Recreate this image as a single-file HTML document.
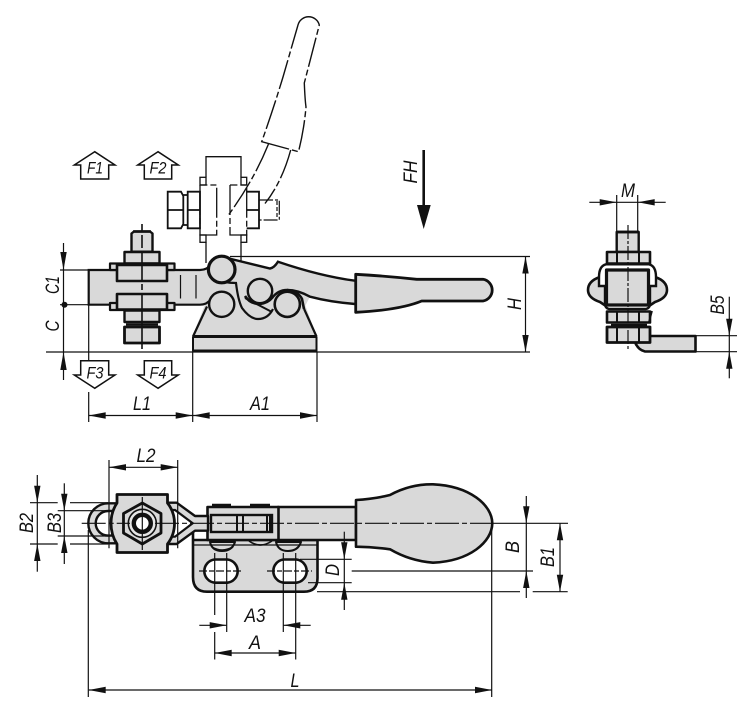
<!DOCTYPE html>
<html><head><meta charset="utf-8"><style>
html,body{margin:0;padding:0;background:#fff}
svg{display:block}
.t{font-family:"Liberation Sans",sans-serif;font-style:italic;font-size:19px;fill:#111;text-anchor:middle}
.f{font-size:17px}
.g{fill:#d9d9d9;stroke:#111;stroke-linejoin:round}
.n{fill:none;stroke:#111}
.w{fill:#fff;stroke:#111}
.h{stroke:#111;stroke-width:1.2;fill:none}
.a{fill:#111;stroke:none}
.c{stroke:#111;stroke-width:1.1;fill:none;stroke-dasharray:24 3 5 3}
.p{stroke:#111;stroke-width:1.4;fill:none;stroke-dasharray:30 3 6 3}
</style></head><body>
<svg width="750" height="711" viewBox="0 0 750 711" xmlns="http://www.w3.org/2000/svg">
<rect width="750" height="711" fill="#fff"/>

<!-- Force symbols -->
<polygon class="n" stroke-width="1.5" points="94.7,151.7 74.3,165 80.7,165 80.7,179 108.7,179 108.7,165 115,165"/>
<polygon class="n" stroke-width="1.5" points="158,151.7 137.7,165 144.3,165 144.3,179 171.7,179 171.7,165 178.3,165"/>
<polygon class="n" stroke-width="1.5" points="94.7,388.3 74.3,375 80.7,375 80.7,360.7 108.7,360.7 108.7,375 115,375"/>
<polygon class="n" stroke-width="1.5" points="158,388.3 137.7,375 144.3,375 144.3,360.7 171.7,360.7 171.7,375 178.3,375"/>
<text class="t f" x="95" y="173.5" textLength="16" lengthAdjust="spacingAndGlyphs">F1</text>
<text class="t f" x="158" y="173.5" textLength="17" lengthAdjust="spacingAndGlyphs">F2</text>
<text class="t f" x="95" y="378.5" textLength="17" lengthAdjust="spacingAndGlyphs">F3</text>
<text class="t f" x="158" y="378.5" textLength="17" lengthAdjust="spacingAndGlyphs">F4</text>

<!-- Phantom handle -->
<g class="p">
<path d="M298,25 A11,11 0 0 1 319.3,25 L304.3,83 Q305,100 306,107 Q304,130 298.5,151.7 L261.7,141.7 Q273,110 283,77 L298,25"/>
<path d="M268.5,144 Q254,180 228.5,215"/>
<path d="M290.7,150 Q282,182 265,203.5"/>
</g>

<!-- Phantom clamp arm -->
<g class="n" stroke-width="1.3">
<path d="M206,177.3 V156.7 H241 V177.3"/>
<rect x="200" y="177.3" width="6" height="7.7"/>
<rect x="241" y="177.3" width="5.7" height="7.7"/>
<rect x="200" y="235" width="6" height="7.3"/>
<rect x="241" y="235" width="5.7" height="7.3"/>
<path d="M200,185 V235 H216.7 V185 H200" stroke-dasharray="30 3 6 3"/>
<path d="M230,185 V235 H246.7 V185 H230" stroke-dasharray="30 3 6 3"/>
<path d="M206,242.3 V263 M241,242.3 V265"/>
</g>
<g class="n" stroke-width="1.8">
<path d="M187.7,191.7 H200 V228.3 H187.7 Z M187.7,210 H200"/>
<path d="M167.7,191.7 H181 L183.3,196 V224 L181,228.3 H167.7 Z M167.7,210 H183.3"/>
<path d="M183.3,195 H187.7 M183.3,225 H187.7"/>
<path d="M246.7,191.7 H259 V228.3 H246.7 M246.7,210 H259"/>
</g>
<g class="n" stroke-width="1.2">
<path d="M259,200 H279.3 V220 H259" stroke-dasharray="14 2 3 2"/>
<path d="M277,201 V219" stroke-dasharray="4 2"/>
</g>

<!-- Long horizontals -->
<g class="h">
<path d="M46,352 H530"/>
<path d="M230,256.5 H530"/>
<path d="M60,270 H90"/>
<path d="M60,304.7 H90"/>
</g>

<!-- Base side view -->
<path d="M206.7,300 L192.7,336 H316.7 L303.3,300 Z" fill="#d9d9d9"/>
<path class="n" stroke-width="2.2" d="M207,306.5 L193,336.5 M303,306.5 L316.5,336.5"/>
<rect class="g" stroke-width="2" x="193" y="337" width="123.5" height="14"/>
<path class="n" stroke-width="3" d="M193,336.5 H316.5 M193,351 H317"/>

<!-- Clamp arm -->
<path d="M88.7,270 H200 Q207,270 212,264 L240,268 V300 L212,300 Q207,304.7 200,304.7 H88.7 Z" fill="#d9d9d9"/>
<path class="n" stroke-width="2.2" d="M212,264 Q207,270 200,270 H88.7 V304.7 H200 Q207,304.7 211,299"/>
<path class="n" stroke-width="1.2" d="M180.5,275 V298.5 M196,275 V298.5"/>

<!-- Stud and nuts -->
<path class="g" stroke-width="2.4" d="M131.5,251.7 V233.5 L134,231.5 H150 L152.5,233.5 V251.7 Z"/>
<path class="n" stroke-width="2.4" d="M133,231.5 H151"/>
<rect class="g" stroke-width="2.4" x="124.5" y="252" width="35" height="11.5"/>
<rect class="g" stroke-width="2.2" x="110" y="263.5" width="64.5" height="6.5"/>
<rect class="g" stroke-width="2.6" x="117" y="265" width="50" height="16"/>
<rect class="g" stroke-width="2.2" x="110" y="303" width="64.5" height="7"/>
<rect class="g" stroke-width="2.6" x="117" y="294" width="50" height="15.5"/>
<rect class="g" stroke-width="2.4" x="124.5" y="310.5" width="35" height="11.5"/>
<path class="n" stroke-width="2.4" d="M126,324.5 H158"/>
<rect class="g" stroke-width="2.8" x="124.5" y="327" width="35" height="16"/>
<path class="n" stroke-width="1.6" d="M142,265 V281 M142,294 V343 M142,252 V263 M142,224 V232 M142,235 V248 M142,284 V290 M142,343 V349"/>

<!-- Handle arm -->
<path d="M223,257 L270,268.5 Q274,268 278,261.7 Q320,276 355,280.7 V304 Q330,302 310,296.7 L303,310 H240 L215,280 Z" fill="#d9d9d9"/>
<path class="n" stroke-width="2.4" d="M223,257 L270,268.5 Q274,268 278,261.7 Q320,276 355,280.7 M355,304 Q330,302 310,296.7 Q298,290 287,290"/>
<path class="g" stroke-width="2.8" d="M355.7,274.3 Q386,276 416.7,279.3 H483 A11,11 0 0 1 483,301 H421.7 Q400,310 355.7,312.3 Z"/>

<!-- Linkage -->
<path class="n" stroke-width="2.2" d="M214,279 Q224,283 236,283 Q238,300 242,308 Q250,319 258,319 Q268,319 273,309"/>
<path class="n" stroke-width="2" d="M245,298 L271,311.5"/>
<path class="n" stroke-width="2.6" d="M245,296 Q250,304 260,304 Q268,303 272,298 Q278,290 287,290 Q298,291 302,299 L304,309"/>
<circle class="g" stroke-width="3.2" cx="221.7" cy="269.5" r="13.3"/>
<circle class="g" stroke-width="2.4" cx="221.7" cy="304.3" r="12.6"/>
<circle class="g" stroke-width="2.4" cx="260" cy="291" r="12.2"/>
<circle class="g" stroke-width="2.6" cx="287.3" cy="304.3" r="12.6"/>

<!-- Dimensions side view -->
<g class="h">
<path d="M63.5,243 V380"/>
<path d="M88.7,305 V360 M88.7,392 V422"/>
<path d="M192.7,352 V422 M317,352 V422"/>
<path d="M88.7,415.5 H317"/>
<path d="M525.5,256 V352"/>
</g>
<circle class="a" cx="64.5" cy="304.7" r="3"/>
<polygon class="a" points="63.5,270 60.3,252 66.7,252"/>
<polygon class="a" points="63.5,352 60.3,370 66.7,370"/>
<polygon class="a" points="88.7,415.5 105.7,412.3 105.7,418.7"/>
<polygon class="a" points="192.7,415.5 175.7,412.3 175.7,418.7"/>
<polygon class="a" points="192.7,415.5 209.7,412.3 209.7,418.7"/>
<polygon class="a" points="317,415.5 300,412.3 300,418.7"/>
<polygon class="a" points="525.5,256.5 522.3,273.5 528.7,273.5"/>
<polygon class="a" points="525.5,352 522.3,335 528.7,335"/>
<text class="t" x="142" y="410" textLength="18" lengthAdjust="spacingAndGlyphs">L1</text>
<text class="t" x="260" y="410" textLength="20" lengthAdjust="spacingAndGlyphs">A1</text>
<text class="t" transform="rotate(-90 59 285)" x="59" y="285" textLength="18" lengthAdjust="spacingAndGlyphs">C1</text>
<text class="t" transform="rotate(-90 59 326)" x="59" y="326" textLength="11" lengthAdjust="spacingAndGlyphs">C</text>
<text class="t" transform="rotate(-90 521 304)" x="521" y="304" textLength="12" lengthAdjust="spacingAndGlyphs">H</text>

<!-- FH arrow -->
<path class="n" stroke-width="2.6" d="M423.7,150 V207"/>
<polygon class="a" points="423.7,229 417,205 430.7,205"/>
<text class="t" transform="rotate(-90 417 172)" x="417" y="172" textLength="23" lengthAdjust="spacingAndGlyphs">FH</text>

<!-- Right view -->
<path class="g" stroke-width="2.6" d="M650,336 H695.5 V351.5 H645 Q638,350 635,342"/>
<path class="g" stroke-width="2.6" d="M600,277 Q588,281 588,290 Q588,298 600,302 L606,306 V277 Z"/>
<path class="g" stroke-width="2.6" d="M655,277 Q667,281 667,290 Q667,298 655,302 L649,306 V277 Z"/>
<path class="n" stroke-width="2.4" style="fill:#fff" d="M606,264.3 H649 Q656,266 656,277 V286 H650 V304 Q650,308 646,309 H609 Q605,308 605,304 V286 H599 V277 Q599,266 606,264.3 Z"/>
<rect class="g" stroke-width="3.2" x="606.5" y="270" width="42" height="35"/>
<rect class="g" stroke-width="2.4" x="616.7" y="232" width="22" height="20"/>
<path class="n" stroke-width="2.8" d="M617,232 H639"/>
<rect class="g" stroke-width="2.6" x="607" y="252" width="43" height="11.5"/>
<path class="n" stroke-width="2" d="M617,252 V263 M639,252 V263"/>
<rect class="g" stroke-width="2.6" x="607" y="311.5" width="43" height="11"/>
<path class="n" stroke-width="2" d="M617,312 V322 M639,312 V322"/>
<path class="n" stroke-width="2.4" d="M611,325 H647"/>
<rect class="g" stroke-width="2.8" x="607" y="327" width="43" height="15.5"/>
<path class="n" stroke-width="2" d="M617,327 V342 M639,327 V342"/>
<path class="n" stroke-width="1.8" d="M652,311 L649,322"/>
<path class="n" stroke-width="1.2" d="M628,225 V349" stroke-dasharray="14 2 3 2"/>
<g class="h">
<path d="M589.3,202.3 H665.7"/>
<path d="M616.7,195 V232 M637.7,195 V232"/>
<path d="M695,335.7 H737 M695,351.7 H737"/>
<path d="M729.3,296.7 V378.3"/>
</g>
<polygon class="a" points="616.7,202.3 599.7,199.1 599.7,205.5"/>
<polygon class="a" points="637.7,202.3 654.7,199.1 654.7,205.5"/>
<polygon class="a" points="729.3,335.7 726.1,318.7 732.5,318.7"/>
<polygon class="a" points="729.3,351.7 726.1,368.7 732.5,368.7"/>
<text class="t" x="628" y="197" textLength="14" lengthAdjust="spacingAndGlyphs">M</text>
<text class="t" transform="rotate(-90 724 305)" x="724" y="305" textLength="19" lengthAdjust="spacingAndGlyphs">B5</text>

<!-- Top view: base plate -->
<path class="g" stroke-width="2.6" d="M193,530 V577 Q193,591.7 207,591.7 H304 Q317.5,591.7 317.5,578 V540 H193"/>
<path class="w" stroke-width="2.6" d="M214.5,559.5 H227.5 A11.7,11.7 0 0 1 227.5,582.7 H214.5 A11.7,11.7 0 0 1 214.5,559.5 Z"/>
<path class="w" stroke-width="2.6" d="M283.5,559.5 H296.5 A11.7,11.7 0 0 1 296.5,582.7 H283.5 A11.7,11.7 0 0 1 283.5,559.5 Z"/>
<path class="g" stroke-width="2" d="M210,542 Q212,551 222,551 Q232,551 235,542 Z"/>
<path class="g" stroke-width="2" d="M276,542 Q278,551 288,551 Q298,551 301,542 Z"/>
<path class="n" stroke-width="1.2" d="M193,545 H317"/>
<path class="n" stroke-width="1.6" d="M212,547 Q222,553 233,547 M249,541 Q260,549 272,541"/>

<!-- Top view: arm and handle -->
<path class="g" stroke-width="2.6" d="M278,507 H356 V540 H278 Z"/>
<rect class="g" stroke-width="2.6" x="207.5" y="507" width="71" height="33"/>
<path class="n" stroke-width="2.6" d="M212,505 H231 M250,505 H270"/>
<rect class="n" stroke-width="2.4" x="211" y="515" width="61" height="17"/>
<path class="n" stroke-width="2" d="M237,515 V532 M243,515 V532 M267,515 V532 M270,515 V532"/>
<path class="g" stroke-width="2.6" d="M356,500 Q374,499 390,495 Q410,484 433,484.3 C470,486 492,505 492.3,523.3 C492,542 470,561 433,562.7 Q410,561 390,549.3 Q374,547 356,546.7 Z"/>

<!-- Top view: left clamp -->
<path class="g" stroke-width="2.4" d="M118,503.3 H108.3 A20,20 0 0 0 108.3,543.3 H118"/>
<path class="w" stroke-width="2.4" d="M116,511 H108 A12.3,12.3 0 0 0 108,535.6 H116 Z"/>
<path class="g" stroke-width="2.4" d="M165,502.7 H176.7 L195,516 H208 V530.7 H195 L176.7,544 H165 Z"/>
<path class="w" stroke-width="2.2" d="M172,510 L175,510 L192.7,523.3 L175,536.7 L172,536.7 Z"/>
<path class="g" stroke-width="2.8" d="M117,494.5 H167.5 V503 Q174.5,512 174.5,523.3 Q174.5,535 167.5,544 V552.5 H117 V544 Q111,535 111,523.3 Q111,512 117,503 Z"/>
<polygon class="g" stroke-width="2.8" points="142.3,503 161,513.5 161,533 142.3,544 123.5,533 123.5,513.5"/>
<circle class="w" stroke-width="1.6" cx="142.3" cy="523.3" r="14" style="fill:#e6e6e6"/>
<circle class="w" stroke-width="4.4" cx="142.3" cy="523.3" r="8.5"/>
<path class="n" stroke-width="1.2" d="M142.3,497 V550"/>

<!-- Top view: centre lines -->
<path class="c" d="M81.7,523.3 H130 M155,523.3 H492"/>
<path class="h" stroke-dasharray="8 2 5 2" d="M199,571 H243 M267,571 H312"/>

<!-- Top view: dimensions -->
<g class="h">
<path d="M351.7,571 H533"/>
<path d="M492,523.3 H568"/>
<path d="M317,591.7 H520 M532.7,591.7 H567.7"/>
<path d="M300,559.3 H351.7 M308,582.7 H351.7"/>
<path d="M526.3,496 V598"/>
<path d="M560,523.3 V591.7"/>
<path d="M344.3,531.7 V610"/>
<path d="M214.7,553 V615 M214.7,632 V659.5"/>
<path d="M226.7,553 V632"/>
<path d="M283.3,553 V632"/>
<path d="M295.7,553 V659.5"/>
<path d="M199.3,625.3 H226.7 M283.3,625.3 H310.7"/>
<path d="M214.7,653 H295.7"/>
<path d="M88.7,690 H492"/>
<path d="M491.7,523.3 V697"/>
<path d="M88.3,530 V697"/>
<path d="M109,460 V548.3 M177.7,460 V548.3"/>
<path d="M109,467.3 H177.7"/>
<path d="M37.3,475 V571.7"/>
<path d="M64.3,483.3 V564"/>
<path d="M30,502.7 H57.7 M70,502.7 H108 M30,544 H57.7 M70,544 H108"/>
<path d="M57.7,510.7 H110 M57.7,536 H110"/>
</g>
<polygon class="a" points="526.3,523.3 523.1,506.3 529.5,506.3"/>
<polygon class="a" points="526.3,571 523.1,588 529.5,588"/>
<polygon class="a" points="560,523.3 556.8,540.3 563.2,540.3"/>
<polygon class="a" points="560,591.7 556.8,574.7 563.2,574.7"/>
<polygon class="a" points="344.3,559.3 341.1,542.3 347.5,542.3"/>
<polygon class="a" points="344.3,582.7 341.1,599.7 347.5,599.7"/>
<polygon class="a" points="226.7,625.3 209.7,622.1 209.7,628.5"/>
<polygon class="a" points="283.3,625.3 300.3,622.1 300.3,628.5"/>
<polygon class="a" points="214.7,653 231.7,649.8 231.7,656.2"/>
<polygon class="a" points="295.7,653 278.7,649.8 278.7,656.2"/>
<polygon class="a" points="88.7,690 105.7,686.8 105.7,693.2"/>
<polygon class="a" points="492,690 475,686.8 475,693.2"/>
<polygon class="a" points="109,467.3 126,464.1 126,470.5"/>
<polygon class="a" points="177.7,467.3 160.7,464.1 160.7,470.5"/>
<polygon class="a" points="37.3,502.7 34.1,485.7 40.5,485.7"/>
<polygon class="a" points="37.3,544 34.1,561 40.5,561"/>
<polygon class="a" points="64.3,510.7 61.1,493.7 67.5,493.7"/>
<polygon class="a" points="64.3,536 61.1,553 67.5,553"/>

<text class="t" x="146" y="462" textLength="19" lengthAdjust="spacingAndGlyphs">L2</text>
<text class="t" x="255" y="622" textLength="21" lengthAdjust="spacingAndGlyphs">A3</text>
<text class="t" x="255" y="649" textLength="12" lengthAdjust="spacingAndGlyphs">A</text>
<text class="t" x="295" y="687" textLength="9" lengthAdjust="spacingAndGlyphs">L</text>
<text class="t" transform="rotate(-90 33 523)" x="33" y="523" textLength="20" lengthAdjust="spacingAndGlyphs">B2</text>
<text class="t" transform="rotate(-90 61 523)" x="61" y="523" textLength="20" lengthAdjust="spacingAndGlyphs">B3</text>
<text class="t" transform="rotate(-90 519 547)" x="519" y="547" textLength="12" lengthAdjust="spacingAndGlyphs">B</text>
<text class="t" transform="rotate(-90 554 557)" x="554" y="557" textLength="20" lengthAdjust="spacingAndGlyphs">B1</text>
<text class="t" transform="rotate(-90 339 570)" x="339" y="570" textLength="12" lengthAdjust="spacingAndGlyphs">D</text>
</svg>
</body></html>
